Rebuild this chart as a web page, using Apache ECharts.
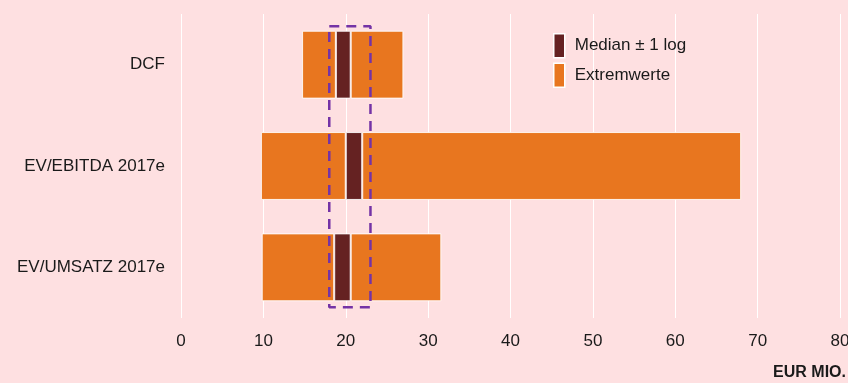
<!DOCTYPE html>
<html>
<head>
<meta charset="utf-8">
<script src="https://cdn.jsdelivr.net/npm/echarts@6/dist/echarts.min.js"></script>
<style>
  html, body { margin: 0; padding: 0; background: #fee0e1; }
  #chart { width: 848px; height: 383px; }
</style>
</head>
<body>
<div id="chart"></div>
<script>
// Valuation methods and their ranges (EUR Mio.)
const categories = ['DCF', 'EV/EBITDA 2017e', 'EV/UMSATZ 2017e'];
const extremeLow  = [14.7, 9.7, 9.8];
const extremeHigh = [27.0, 68.0, 31.6];
const medianLow   = [18.8, 20.0, 18.6];
const medianHigh  = [20.6, 22.0, 20.6];
const xTicks = [0, 10, 20, 30, 40, 50, 60, 70, 80];

// Highlighted value corridor (x range) and its vertical extent as a share of the plot height
const corridorX = [18, 23];
const corridorY = [0.035, 0.96];

const ORANGE = '#e8761f';
const DARK = '#652222';
const PURPLE = '#7433a6';
const FONT = 'Liberation Sans, Arial, sans-serif';

const base = extremeLow;
const lowPart = medianLow.map((v, i) => +(v - extremeLow[i]).toFixed(2));
const midPart = medianHigh.map((v, i) => +(v - medianLow[i]).toFixed(2));
const highPart = extremeHigh.map((v, i) => +(v - medianHigh[i]).toFixed(2));

const segStyle = (c) => ({ color: c, borderColor: 'rgba(255,255,255,0.85)', borderWidth: 1 });

const corridor = [
  [corridorX[0], corridorY[1]],
  [corridorX[1], corridorY[1]],
  [corridorX[1], corridorY[0]],
  [corridorX[0], corridorY[0]],
  [corridorX[0], corridorY[1]]
];

const chart = echarts.init(document.getElementById('chart'));
chart.setOption({
  backgroundColor: '#fee0e1',
  animation: false,
  textStyle: { fontFamily: FONT },
  grid: { left: 181, right: 8, top: 14, bottom: 65, outerBoundsMode: 'none', containLabel: false },
  title: {
    text: 'EUR MIO.',
    right: 2,
    top: 365,
    padding: 0,
    textStyle: { fontSize: 16, fontWeight: 'bold', color: '#1a1a1a', fontFamily: FONT }
  },
  legend: {
    orient: 'vertical',
    left: 548,
    top: 28,
    itemWidth: 11,
    itemHeight: 24,
    itemGap: 4,
    icon: 'rect',
    selectedMode: false,
    data: ['Median ± 1 log', 'Extremwerte'],
    textStyle: { fontSize: 17, color: '#1a1a1a', fontFamily: FONT, padding: [3, 0, 0, 5] },
    itemStyle: { borderColor: '#ffffff', borderWidth: 1.5 }
  },
  xAxis: {
    type: 'value',
    min: xTicks[0],
    max: xTicks[xTicks.length - 1],
    interval: 10,
    axisLine: { show: false },
    axisTick: { show: false },
    splitLine: { show: true, lineStyle: { color: '#ffffff', width: 1 } },
    axisLabel: { fontSize: 17, color: '#1a1a1a', margin: 15, fontFamily: FONT }
  },
  yAxis: [
    {
      type: 'category',
      data: categories,
      inverse: true,
      axisLine: { show: false },
      axisTick: { show: false },
      splitLine: { show: false },
      axisLabel: { fontSize: 17, color: '#1a1a1a', margin: 16, fontFamily: FONT, padding: [3, 0, 0, 0] }
    },
    {
      type: 'value',
      min: 0,
      max: 1,
      show: false
    }
  ],
  series: [
    {
      type: 'bar', stack: 'range', data: base, barCategoryGap: '33%',
      itemStyle: { color: 'transparent' }, silent: true
    },
    { name: 'Extremwerte', type: 'bar', stack: 'range', data: lowPart, itemStyle: segStyle(ORANGE) },
    { name: 'Median ± 1 log', type: 'bar', stack: 'range', data: midPart, itemStyle: segStyle(DARK) },
    { name: 'Extremwerte', type: 'bar', stack: 'range', data: highPart, itemStyle: segStyle(ORANGE) },
    {
      type: 'line',
      yAxisIndex: 1,
      data: corridor,
      showSymbol: false,
      symbol: 'none',
      silent: true,
      z: 5,
      lineStyle: { color: PURPLE, width: 2.5, type: [10, 7] }
    }
  ]
});
</script>
</body>
</html>
